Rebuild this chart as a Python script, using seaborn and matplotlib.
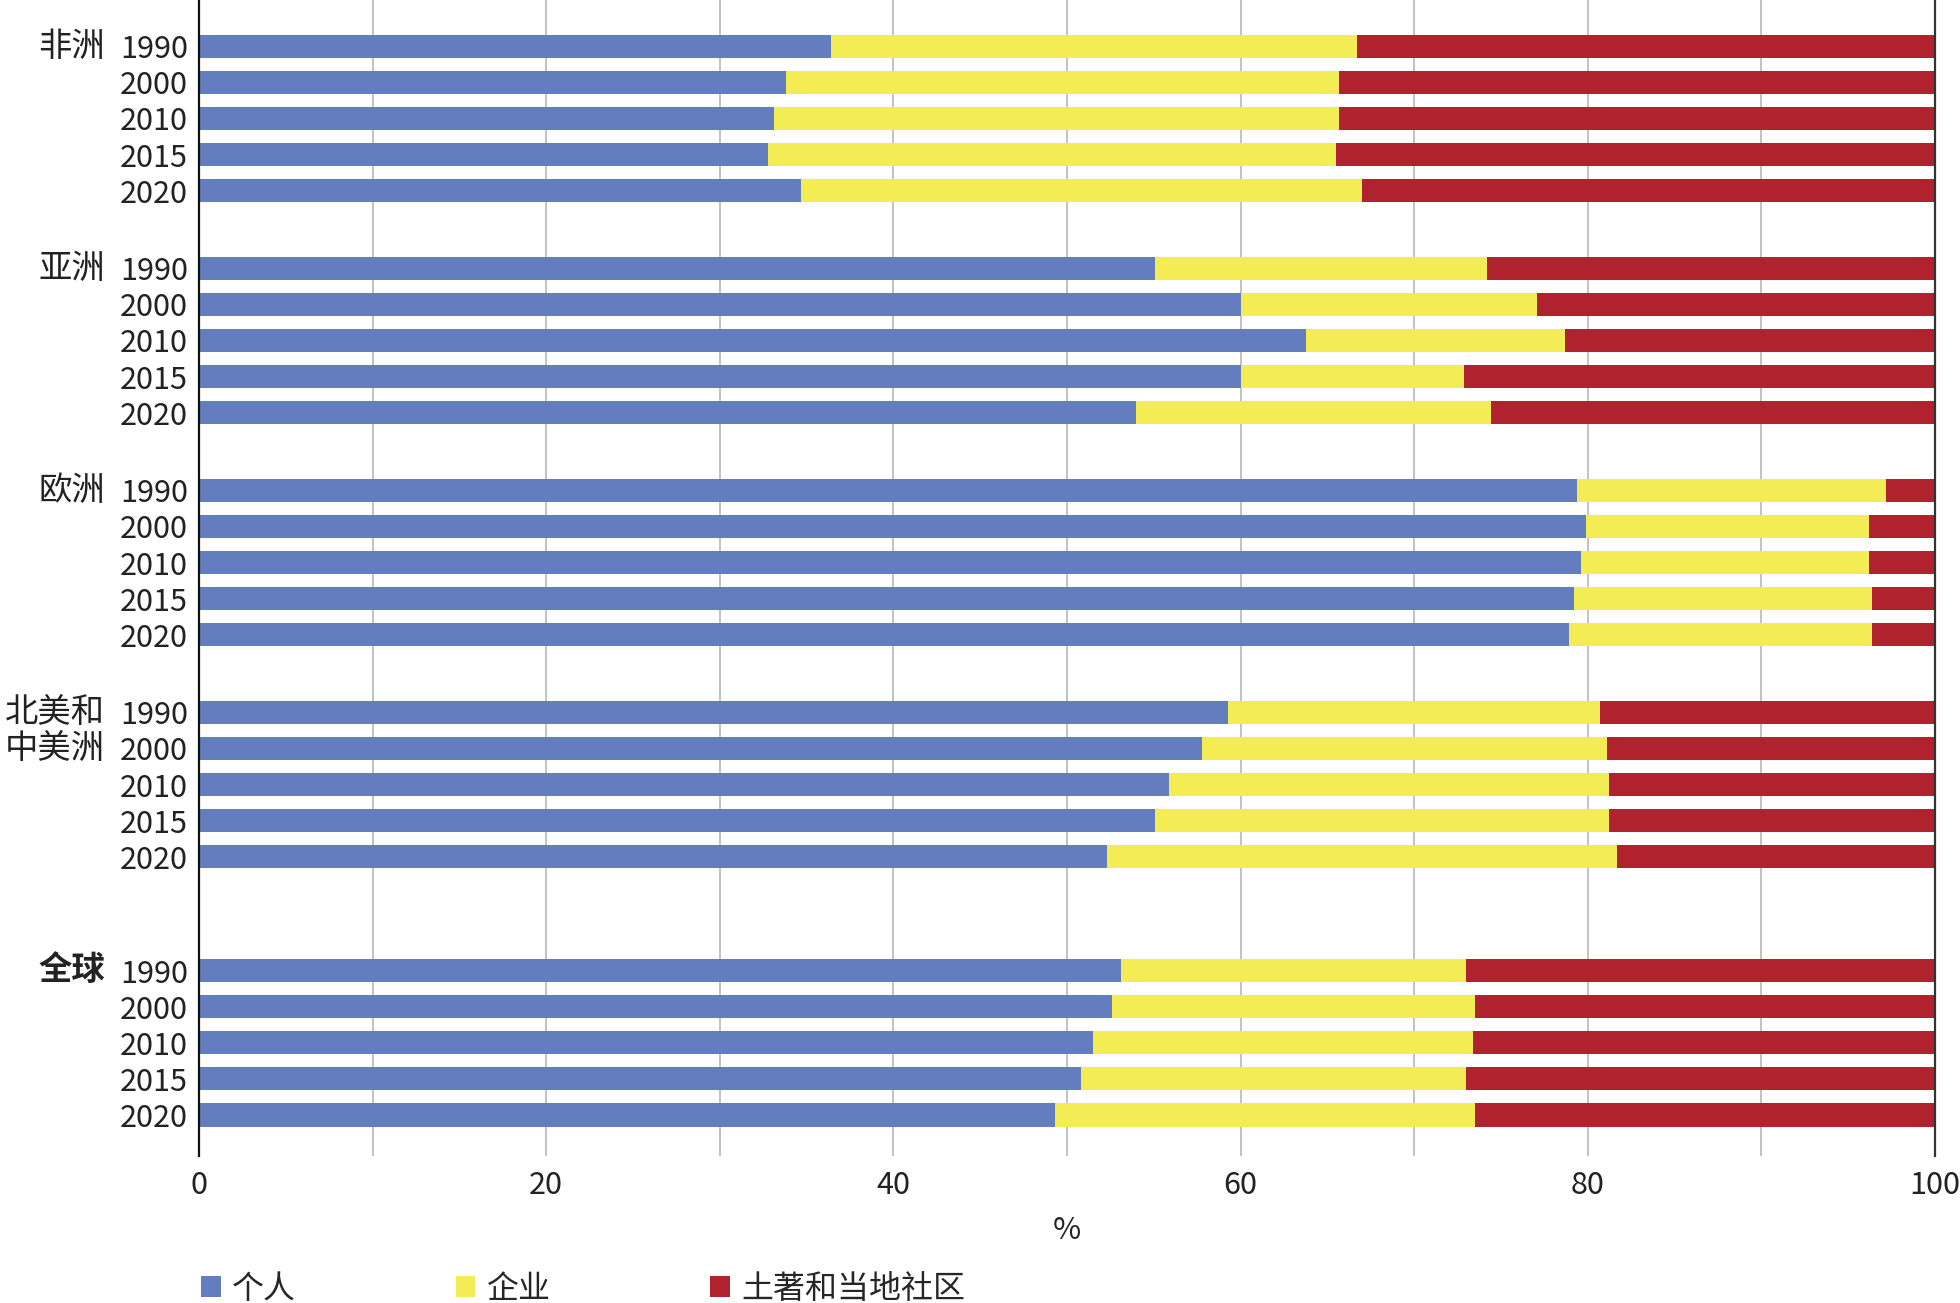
import matplotlib
matplotlib.use("Agg")
import matplotlib.pyplot as plt
from matplotlib.patches import Patch
import seaborn as sns
import pandas as pd

# --- data (shares in %) ---
regions = ["非洲", "亚洲", "欧洲", "北美和\n中美洲", "全球"]
years = ["1990", "2000", "2010", "2015", "2020"]
series_names = ["个人", "企业", "土著和当地社区"]

individual = [
    [36.4, 33.8, 33.1, 32.8, 34.7],   # 非洲
    [55.1, 60.0, 63.8, 60.0, 54.0],   # 亚洲
    [79.4, 79.9, 79.6, 79.2, 78.9],   # 欧洲
    [59.3, 57.8, 55.9, 55.1, 52.3],   # 北美和中美洲
    [53.1, 52.6, 51.5, 50.8, 49.3],   # 全球
]
business = [
    [30.3, 31.9, 32.6, 32.7, 32.3],
    [19.1, 17.1, 14.9, 12.9, 20.4],
    [17.8, 16.3, 16.6, 17.2, 17.5],
    [21.4, 23.3, 25.3, 26.1, 29.4],
    [19.9, 20.9, 21.9, 22.2, 24.2],
]
community = [
    [33.3, 34.3, 34.3, 34.5, 33.0],
    [25.8, 22.9, 21.3, 27.1, 25.6],
    [2.8, 3.8, 3.8, 3.6, 3.6],
    [19.3, 18.9, 18.8, 18.8, 18.3],
    [27.0, 26.5, 26.6, 27.0, 26.5],
]

colors = ["#647dbf", "#f4ec55", "#b0222e"]

# --- layout of rows: groups separated by gaps, bigger gap before 全球 ---
group_step = 6.15
extra_gap = {4: 1.0}

rows = []
for g, region in enumerate(regions):
    start = g * group_step + sum(v for k, v in extra_gap.items() if g >= k)
    for i, yr in enumerate(years):
        a = individual[g][i]
        b = business[g][i]
        c = community[g][i]
        rows.append({"region": region, "year": yr, "group": g, "row": i,
                     "pos": start + i,
                     "cum1": a, "cum2": a + b, "cum3": a + b + c})
df = pd.DataFrame(rows)

sns.set_style("white")
plt.rcParams["font.family"] = ["Noto Sans CJK SC", "DejaVu Sans"]
plt.rcParams["font.size"] = 22

TXT = "#222222"

fig = plt.figure(figsize=(19.6, 13.03), dpi=100)
ax = fig.add_axes([0.1015, 0.113, 0.8857, 0.887])

# stacked bars: draw cumulative totals from the back to the front
for col, color in zip(["cum3", "cum2", "cum1"], colors[::-1]):
    sns.barplot(data=df, x=col, y="pos", orient="h", native_scale=True,
                color=color, width=0.645, errorbar=None, saturation=1,
                linewidth=0, ax=ax)

ax.set_xlim(0, 100)
ax.set_ylim(30.73, -1.28)

ax.set_xticks(range(0, 101, 20))
ax.set_xticks(range(0, 101, 10), minor=True)
ax.tick_params(axis="x", which="both", length=0, pad=10, labelsize=22,
               colors=TXT)
ax.set_yticks(df["pos"], df["year"])
ax.tick_params(axis="y", length=0, pad=8, labelsize=22, colors=TXT)

ax.set_axisbelow(True)
ax.xaxis.grid(True, which="both", color="#bdbdbd", linewidth=1.3)
ax.yaxis.grid(False)

for side in ["top", "bottom"]:
    ax.spines[side].set_visible(False)
ax.spines["left"].set_color("#111111")
ax.spines["left"].set_linewidth(1.6)
ax.spines["right"].set_color("#333333")
ax.spines["right"].set_linewidth(1.6)

ax.set_xlabel("%", fontsize=22, labelpad=10, color=TXT)
ax.set_ylabel("")

# region labels to the left of the year labels
trans = ax.get_yaxis_transform()
for g, region in enumerate(regions):
    first = df[(df["group"] == g) & (df["row"] == 0)]["pos"].iloc[0]
    weight = "bold" if region == "全球" else "normal"
    for k, line in enumerate(region.split("\n")):
        ax.text(-0.054, first + k, line, transform=trans, ha="right",
                va="center", fontsize=24, fontweight=weight, color=TXT)

handles = [Patch(facecolor=c, edgecolor="none") for c in colors]
fig.legend(handles, series_names, loc="center left",
           bbox_to_anchor=(0.1025, 0.011), ncol=3, frameon=False,
           fontsize=23, handlelength=0.62, handleheight=0.62,
           handletextpad=0.35, columnspacing=5.0, borderpad=0,
           borderaxespad=0)

fig.savefig("out.png", dpi=100)
